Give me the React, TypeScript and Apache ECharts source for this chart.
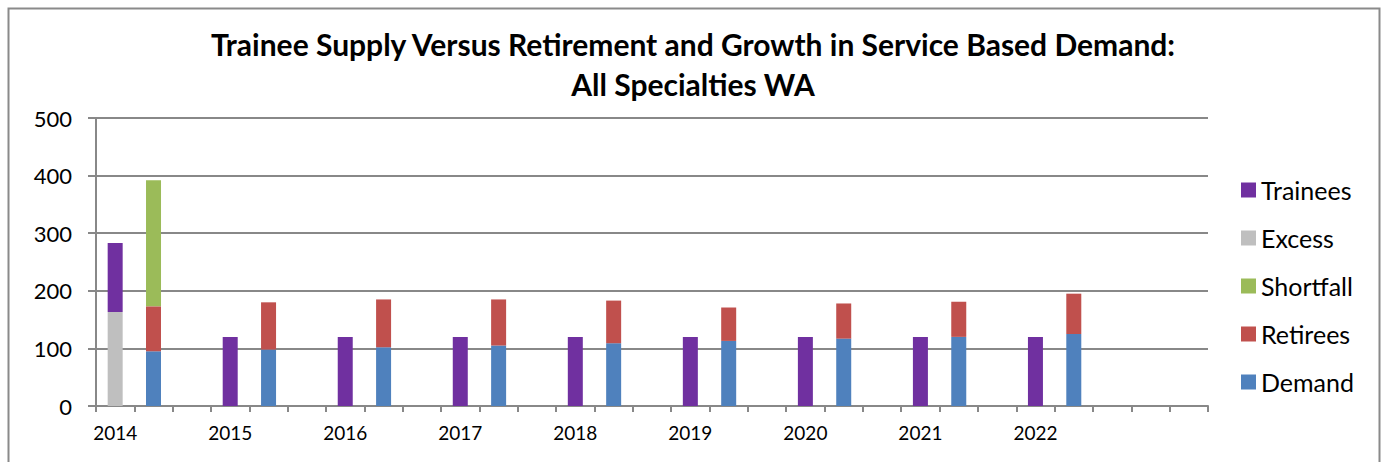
import React, { useEffect, useRef } from "react";
import * as echarts from "echarts";

const years = ["2014", "2015", "2016", "2017", "2018", "2019", "2020", "2021", "2022"];
const trainees = [120, 120, 120, 120, 120, 120, 120, 120, 120];
const excess = [163, null, null, null, null, null, null, null, null];
const shortfall = [219, null, null, null, null, null, null, null, null];
const retirees = [78, 82, 83, 80, 74, 58, 61, 61, 70];
const demand = [95, 98, 102, 105, 109, 113, 117, 120, 125];
const trailingEmptySlots = 2;

const titleText = "Trainee Supply Versus Retirement and Growth in Service Based Demand:\nAll Specialties WA";

const colors = {
  Trainees: "#7030A0",
  Excess: "#BFBFBF",
  Shortfall: "#9BBB59",
  Retirees: "#C0504D",
  Demand: "#4F81BD",
};

function buildOption() {
  const cats: string[] = [];
  const sTrainees: any[] = [];
  const sExcess: any[] = [];
  const sShortfall: any[] = [];
  const sRetirees: any[] = [];
  const sDemand: any[] = [];
  const v = (x: number | null) => (x === null || x === undefined ? "-" : x);
  years.forEach((y, i) => {
    // left bar: excess + trainees
    cats.push(y);
    sExcess.push(v(excess[i]));
    sTrainees.push(v(trainees[i]));
    sDemand.push("-");
    sRetirees.push("-");
    sShortfall.push("-");
    // right bar: demand + retirees + shortfall
    cats.push("");
    sExcess.push("-");
    sTrainees.push("-");
    sDemand.push(v(demand[i]));
    sRetirees.push(v(retirees[i]));
    sShortfall.push(v(shortfall[i]));
    // gap
    cats.push("");
    sExcess.push("-");
    sTrainees.push("-");
    sDemand.push("-");
    sRetirees.push("-");
    sShortfall.push("-");
  });
  for (let k = 0; k < trailingEmptySlots; k++) {
    cats.push("");
    [sExcess, sTrainees, sDemand, sRetirees, sShortfall].forEach((a) => a.push("-"));
  }

  const mk = (name: keyof typeof colors, data: any[]) => ({
    name,
    type: "bar",
    stack: "all",
    barWidth: 15,
    data,
    itemStyle: { color: colors[name] },
  });

  const fontFamily = "Lato, 'Open Sans', sans-serif";
  const axisGray = "#888888";

  return {
    animation: false,
    backgroundColor: "#ffffff",
    textStyle: { fontFamily },
    title: {
      text: titleText,
      left: "center",
      top: 24,
      padding: 0,
      textStyle: {
        fontFamily,
        fontWeight: "bold",
        fontSize: 30,
        lineHeight: 40,
        color: "#000",
      },
    },
    graphic: [
      {
        type: "rect",
        shape: { x: 8.5, y: 8.5, width: 1371, height: 520 },
        style: { fill: "none", stroke: "#8a8a8a", lineWidth: 2 },
        silent: true,
      },
    ],
    legend: {
      orient: "vertical",
      left: 1236,
      top: 172,
      itemWidth: 15,
      itemHeight: 15,
      itemGap: 22,
      icon: "rect",
      data: ["Trainees", "Excess", "Shortfall", "Retirees", "Demand"],
      textStyle: { fontFamily, fontSize: 25, color: "#000", lineHeight: 26 },
    },
    grid: { left: 96, right: 178, top: 118, bottom: 56, containLabel: false },
    xAxis: {
      type: "category",
      data: cats,
      boundaryGap: true,
      axisLine: { show: true, lineStyle: { color: axisGray, width: 2 } },
      axisTick: { show: true, interval: 0, alignWithLabel: false, length: 6, lineStyle: { color: axisGray, width: 2 } },
      axisLabel: { interval: 0, fontFamily, fontSize: 19, color: "#000", margin: 17 },
      splitLine: { show: false },
    },
    yAxis: {
      type: "value",
      min: 0,
      max: 500,
      interval: 100,
      axisLine: { show: true, lineStyle: { color: axisGray, width: 2 } },
      axisTick: { show: true, length: 8, lineStyle: { color: axisGray, width: 2 } },
      axisLabel: { fontFamily, fontSize: 22, color: "#000", margin: 24 },
      splitLine: { show: true, lineStyle: { color: axisGray, width: 2 } },
    },
    series: [
      mk("Excess", sExcess),
      mk("Demand", sDemand),
      mk("Retirees", sRetirees),
      mk("Trainees", sTrainees),
      mk("Shortfall", sShortfall),
    ],
  };
}

export default function App() {
  const ref = useRef<HTMLDivElement>(null);
  useEffect(() => {
    if (!ref.current) return;
    const chart = echarts.init(ref.current, undefined, { renderer: "svg" });
    chart.setOption(buildOption() as any);
    return () => chart.dispose();
  }, []);
  return (
    <div
      ref={ref}
      style={{ position: "absolute", left: 0, top: 0, width: 1386, height: 462, background: "#fff" }}
    />
  );
}
